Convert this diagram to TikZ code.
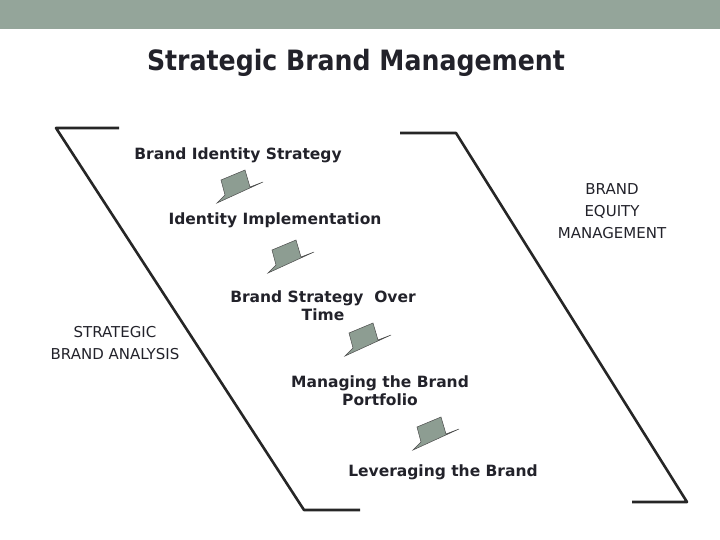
\documentclass[tikz,border=0pt]{standalone}
\usepackage{fontspec}
\setmainfont{DejaVu Sans}
\newfontfamily\titlefont{DejaVu Sans Condensed}
\definecolor{band}{HTML}{94A59A}
\definecolor{txt}{HTML}{22222A}
\begin{document}
\begin{tikzpicture}[x=1pt,y=-1pt,
  item/.style={font=\bfseries\fontsize{15.5}{18}\selectfont,text=txt,align=center,inner sep=0},
  side/.style={font=\fontsize{15}{22}\selectfont,text=txt,align=center,inner sep=0},
  brk/.style={line width=2.6pt,black!85,line join=round},
  blockarrow/.style={fill=band!95!black,draw=black!70,line width=0.5pt}]
\useasboundingbox (0,0) rectangle (720,540);
\fill[band] (0,0) rectangle (720,29);
\node[font=\titlefont\bfseries\fontsize{28}{32}\selectfont,text=txt] (title) at (356,63) {Strategic Brand Management};
% brackets
\coordinate (l1) at (119,128); \coordinate (l2) at (56,128); \coordinate (l3) at (304,510); \coordinate (l4) at (360,510);
\draw[brk] (l1) -- (l2) -- (l3) -- (l4);
\coordinate (r1) at (400,133); \coordinate (r2) at (456,133); \coordinate (r3) at (687,502); \coordinate (r4) at (632,502);
\draw[brk] (r1) -- (r2) -- (r3) -- (r4);
% texts
\node[item] (a) at (238,155) {Brand Identity Strategy};
\node[item] (b) at (275,220) {Identity Implementation};
\node[item] (c) at (323,306) {Brand Strategy\ \ Over\\Time};
\node[item] (d) at (380,391) {Managing the Brand\\Portfolio};
\node[item] (e) at (443,472) {Leveraging the Brand};
\node[side] (s) at (115,343) {STRATEGIC\\BRAND ANALYSIS};
\node[side] (q) at (612,211) {BRAND\\EQUITY\\MANAGEMENT};
% block arrows
\foreach \n/\tx/\ty in {1/217/203, 2/268/273, 3/345/356, 4/413/450}{
  \coordinate (arr\n) at (\tx,\ty);
  \draw[blockarrow,shift={(arr\n)}] (0,0) -- (8,-8) -- (4,-23) -- (28,-33) -- (33,-16) -- (46,-21) -- cycle;
}
\end{tikzpicture}
\end{document}
